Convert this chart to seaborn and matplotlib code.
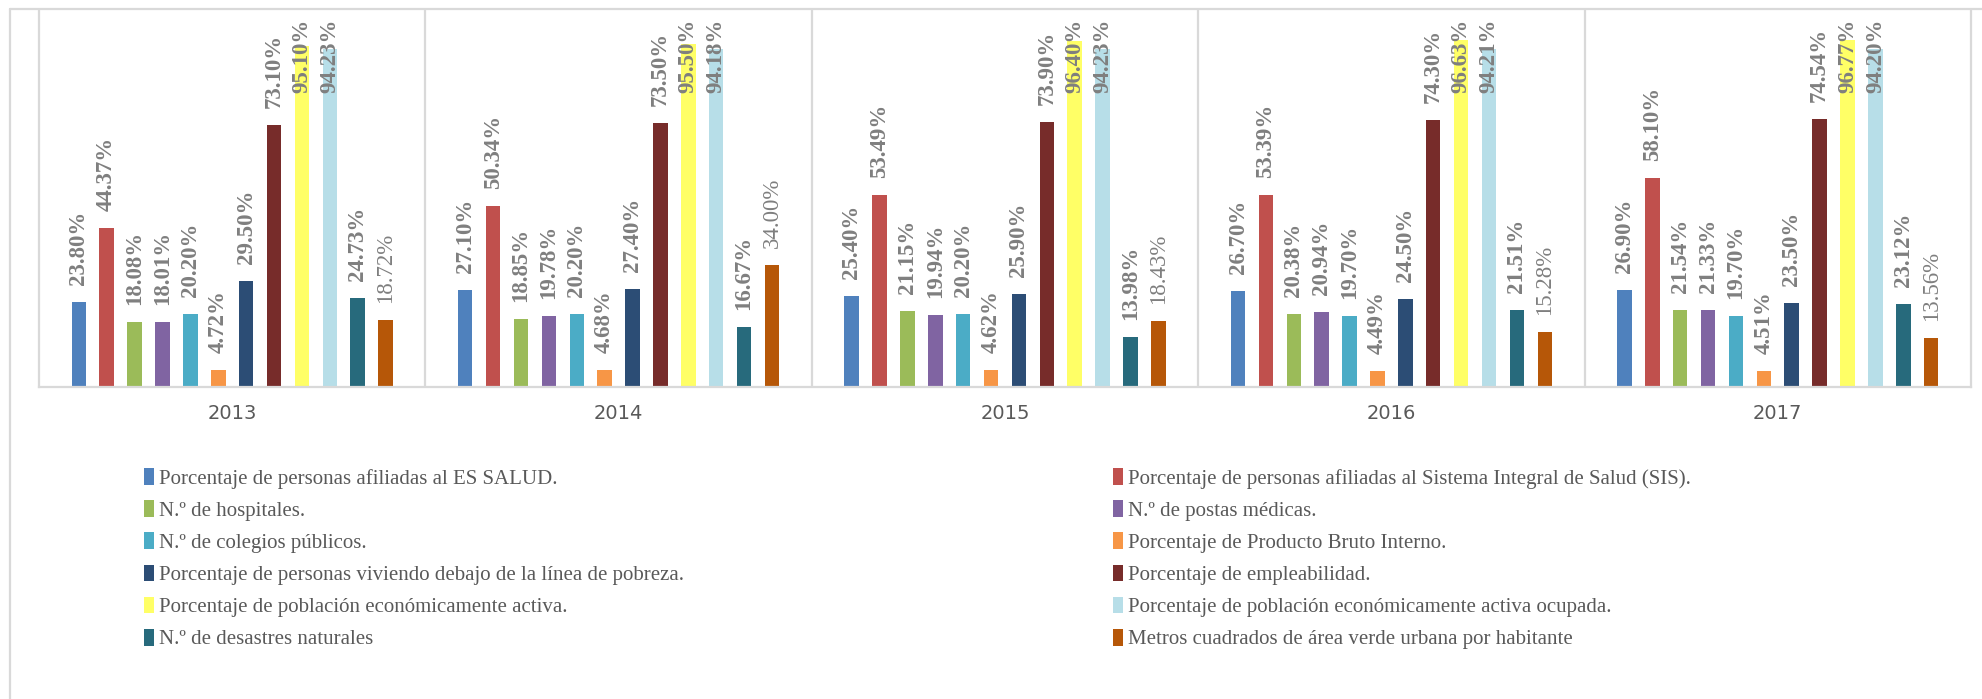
import matplotlib
matplotlib.use('Agg')
import matplotlib.pyplot as plt
from matplotlib.patches import Patch
from matplotlib.lines import Line2D
import pandas as pd
import seaborn as sns


years = ['2013', '2014', '2015', '2016', '2017']

series = [
    'Porcentaje de personas afiliadas al ES SALUD.',
    'Porcentaje de personas afiliadas al Sistema Integral de Salud (SIS).',
    'N.º de hospitales.',
    'N.º de postas médicas.',
    'N.º de colegios públicos.',
    'Porcentaje de Producto Bruto Interno.',
    'Porcentaje de personas viviendo debajo de la línea de pobreza.',
    'Porcentaje de empleabilidad.',
    'Porcentaje de población económicamente activa.',
    'Porcentaje de población económicamente activa ocupada.',
    'N.º de desastres naturales',
    'Metros cuadrados de área verde urbana por habitante',
]

# values per year, same order as series
v2013 = [23.80, 44.37, 18.08, 18.01, 20.20, 4.72, 29.50, 73.10, 95.10, 94.23, 24.73, 18.72]
v2014 = [27.10, 50.34, 18.85, 19.78, 20.20, 4.68, 27.40, 73.50, 95.50, 94.18, 16.67, 34.00]
v2015 = [25.40, 53.49, 21.15, 19.94, 20.20, 4.62, 25.90, 73.90, 96.40, 94.23, 13.98, 18.43]
v2016 = [26.70, 53.39, 20.38, 20.94, 19.70, 4.49, 24.50, 74.30, 96.63, 94.21, 21.51, 15.28]
v2017 = [26.90, 58.10, 21.54, 21.33, 19.70, 4.51, 23.50, 74.54, 96.77, 94.20, 23.12, 13.56]

colors = ['#4F81BD', '#C0504D', '#9BBB59', '#8064A2', '#4BACC6', '#F79646',
          '#2C4D75', '#772C2A', '#FFFF66', '#B7DEE8', '#276A7C', '#B65708']

rows = []
for year, vals in zip(years, [v2013, v2014, v2015, v2016, v2017]):
    for name, v in zip(series, vals):
        rows.append({'year': year, 'serie': name, 'valor': v})
df = pd.DataFrame(rows)

sns.set_theme(style='white')
plt.rcParams['font.family'] = ['Liberation Serif', 'DejaVu Serif']

W, H = 1982, 699
fig = plt.figure(figsize=(W / 100, H / 100), dpi=100)
ax = fig.add_axes([39 / W, 1 - 387 / H, (1971 - 39) / W, (387 - 10) / H])

sns.barplot(data=df, x='year', y='valor', hue='serie', hue_order=series,
            palette=colors, saturation=1, width=0.866, gap=0.48,
            errorbar=None, legend=False, linewidth=0, ax=ax)

YMAX = 105
ax.set_ylim(0, YMAX)
ax.set_xlim(-0.5, 4.5)
ax.set_yticks([])
ax.set_xlabel('')
ax.set_ylabel('')
ax.spines['top'].set_visible(False)
for s in ['left', 'right', 'bottom']:
    ax.spines[s].set_color('#D9D9D9')
    ax.spines[s].set_linewidth(1.6)
for xb in [0.5, 1.5, 2.5, 3.5]:
    ax.axvline(xb, color='#D9D9D9', lw=1.6, zorder=0)
ax.tick_params(axis='x', length=0, pad=12, labelsize=14, labelcolor='#595959')
for t in ax.get_xticklabels():
    t.set_fontfamily('DejaVu Sans')

# data labels
fig.canvas.draw()
renderer = fig.canvas.get_renderer()
ppu = ax.bbox.height / YMAX
for i, cont in enumerate(ax.containers):
    weight = 'normal' if i == len(series) - 1 else 'bold'
    for bar in cont:
        v = bar.get_height()
        xc = bar.get_x() + bar.get_width() / 2
        t = ax.text(xc, v + 17 / ppu, f'{v:.2f}%', rotation=90, ha='center', va='bottom',
                    fontsize=16.5, fontweight=weight, color='#7F7F7F')
        bb = t.get_window_extent(renderer)
        if bb.y1 > ax.bbox.y1 - 8:
            t.set_y(YMAX - 9 / ppu)
            t.set_va('top')

# legend in two columns
handles = [Patch(facecolor=c, edgecolor='none') for c in colors]
leg_kw = dict(loc='upper left', frameon=False, fontsize=15, labelcolor='#595959',
              handlelength=0.5, handleheight=0.85, handletextpad=0.2,
              labelspacing=0.56, borderpad=0, borderaxespad=0)
fig.legend(handles[0::2], series[0::2], bbox_to_anchor=(144 / W, 1 - 468 / H), **leg_kw)
fig.legend(handles[1::2], series[1::2], bbox_to_anchor=(1113 / W, 1 - 468 / H), **leg_kw)

# outer chart border (left and top visible)
fig.add_artist(Line2D([10 / W, 10 / W], [0, 1 - 9 / H], transform=fig.transFigure,
                      color='#D9D9D9', lw=1.6))
fig.add_artist(Line2D([10 / W, 1], [1 - 9 / H, 1 - 9 / H], transform=fig.transFigure,
                      color='#D9D9D9', lw=1.6))

fig.savefig('out.png', dpi=100)
